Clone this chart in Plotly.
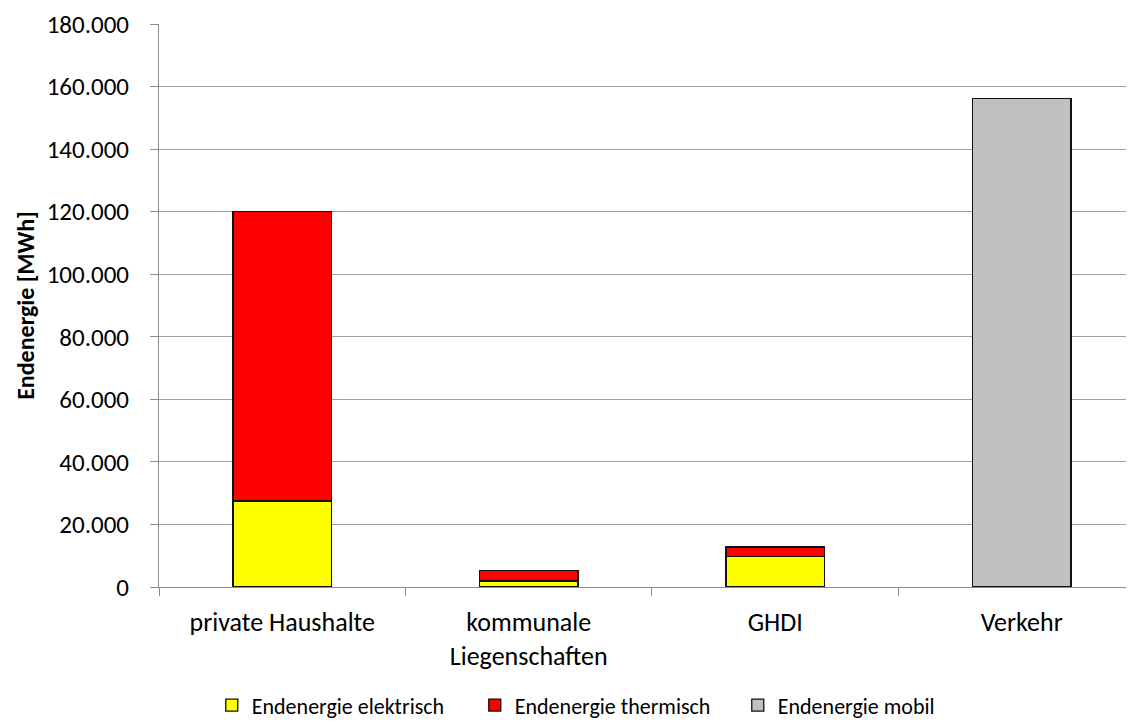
import plotly.graph_objects as go

# Endenergie by sector, in MWh
categories = ["private Haushalte", "kommunale<br>Liegenschaften", "GHDI", "Verkehr"]
elektrisch = [27500, 1900, 9700, None]
thermisch = [92500, 3300, 3100, None]
mobil = [None, None, None, 156200]

y_ticks = [0, 20000, 40000, 60000, 80000, 100000, 120000, 140000, 160000, 180000]

FONT = "Carlito, Lato, 'Open Sans', sans-serif"
edge = dict(color="#111111", width=1.3)

fig = go.Figure()
fig.add_trace(go.Bar(x=categories, y=elektrisch, name="Endenergie elektrisch",
                     marker=dict(color="#FFFF00", line=edge), width=0.4))
fig.add_trace(go.Bar(x=categories, y=thermisch, name="Endenergie thermisch",
                     marker=dict(color="#FF0000", line=edge), width=0.4))
fig.add_trace(go.Bar(x=categories, y=mobil, name="Endenergie mobil",
                     marker=dict(color="#C0C0C0", line=edge), width=0.4))

# the page body adds an 8px offset, margins are set to compensate
fig.update_layout(
    barmode="stack",
    separators=",.",
    width=1134, height=722,
    margin=dict(l=151, r=0, t=16, b=143),
    paper_bgcolor="white",
    plot_bgcolor="white",
    font=dict(family=FONT, size=25, color="#000000"),
    xaxis=dict(
        range=[-0.5, 3.488],
        automargin=False,
        showline=True, linecolor="#8c8c8c", linewidth=1,
        ticks="outside", tickson="boundaries", ticklen=8, tickcolor="#8c8c8c",
        showgrid=False, tickfont=dict(size=26),
        ticklabelstandoff=12,
    ),
    yaxis=dict(
        range=[0, 180000],
        automargin=False,
        tickvals=y_ticks, tickformat=",d",
        showline=True, linecolor="#8c8c8c", linewidth=1,
        ticks="outside", ticklen=8, tickcolor="#8c8c8c",
        ticklabelstandoff=16,
        showgrid=True, gridcolor="#a0a0a0", gridwidth=1,
        zeroline=False,
        title=dict(text="<b>Endenergie [MWh]</b>", font=dict(size=24), standoff=5),
    ),
    legend=dict(
        orientation="h",
        x=0.455, xanchor="center",
        y=-0.21, yanchor="middle",
        font=dict(size=22),
        traceorder="normal",
        entrywidth=218,
    ),
)

fig.write_html("out.html")
